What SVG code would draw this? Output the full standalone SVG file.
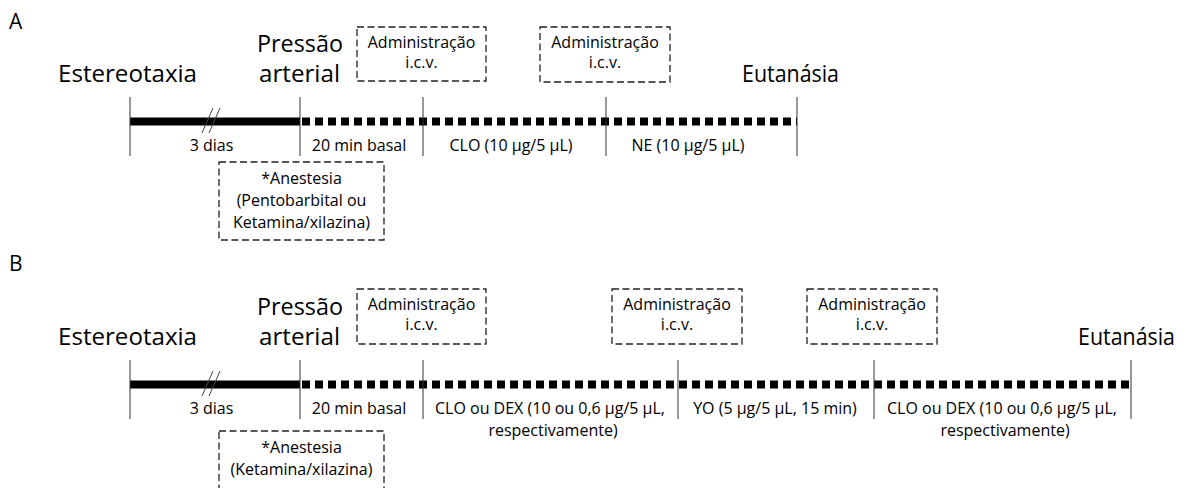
<svg xmlns="http://www.w3.org/2000/svg" width="1195" height="488" viewBox="0 0 1195 488">
  <style>
    text { font-family: "Open Sans", "Liberation Sans", sans-serif; fill: #000; }
    .big { font-size: 24px; }
    .panel { font-size: 21px; }
    .sm { font-size: 16px; text-anchor: middle; }
    .box { fill: none; stroke: #222; stroke-width: 1.3; stroke-dasharray: 7 3.5; }
    .tick { stroke: #333; stroke-width: 1; }
    .solid { stroke: #000; stroke-width: 8; }
    .dotted { stroke: #000; stroke-width: 8; stroke-dasharray: 8 5; }
    .brk { stroke: #444; stroke-width: 1; }
  </style>
  <rect width="1195" height="488" fill="#fff"/>

  <!-- Panel A -->
  <g id="panel-A-label"><text class="panel" x="9" y="29">A</text></g>
  <g id="A-estereotaxia"><text class="big" x="58" y="82" textLength="139" lengthAdjust="spacingAndGlyphs">Estereotaxia</text></g>
  <g id="A-pressao"><text class="big" x="257" y="52" textLength="86" lengthAdjust="spacingAndGlyphs">Pressão</text><text class="big" x="259" y="82" textLength="81" lengthAdjust="spacingAndGlyphs">arterial</text></g>
  <g id="A-eutanasia"><text class="big" x="742" y="82" textLength="97" lengthAdjust="spacingAndGlyphs">Eutanásia</text></g>
  <g id="A-admin-1"><rect class="box" x="357" y="27" width="129" height="54"/><text class="sm" x="421.5" y="48">Administração</text><text class="sm" x="421.5" y="68">i.c.v.</text></g>
  <g id="A-admin-2"><rect class="box" x="540" y="27" width="130" height="55"/><text class="sm" x="605" y="48">Administração</text><text class="sm" x="605" y="68">i.c.v.</text></g>
  <g id="A-anestesia"><rect class="box" x="219" y="162" width="165" height="78"/><text class="sm" x="301.5" y="184">*Anestesia</text><text class="sm" x="301.5" y="206">(Pentobarbital ou</text><text class="sm" x="301.5" y="228">Ketamina/xilazina)</text></g>
  <g id="A-labels">
    <text class="sm" x="211.5" y="151">3 dias</text>
    <text class="sm" x="359" y="151">20 min basal</text>
    <text class="sm" x="511" y="151">CLO (10 µg/5 µL)</text>
    <text class="sm" x="688" y="151">NE (10 µg/5 µL)</text>
  </g>

  <!-- Panel B -->
  <g id="panel-B-label"><text class="panel" x="9" y="271">B</text></g>
  <g id="B-estereotaxia"><text class="big" x="58" y="345" textLength="139" lengthAdjust="spacingAndGlyphs">Estereotaxia</text></g>
  <g id="B-pressao"><text class="big" x="257" y="315" textLength="86" lengthAdjust="spacingAndGlyphs">Pressão</text><text class="big" x="259" y="345" textLength="81" lengthAdjust="spacingAndGlyphs">arterial</text></g>
  <g id="B-eutanasia"><text class="big" x="1078" y="345" textLength="97" lengthAdjust="spacingAndGlyphs">Eutanásia</text></g>
  <g id="B-admin-1"><rect class="box" x="357" y="289" width="129" height="55"/><text class="sm" x="421.5" y="310">Administração</text><text class="sm" x="421.5" y="330">i.c.v.</text></g>
  <g id="B-admin-2"><rect class="box" x="612" y="289" width="130" height="55"/><text class="sm" x="677" y="310">Administração</text><text class="sm" x="677" y="330">i.c.v.</text></g>
  <g id="B-admin-3"><rect class="box" x="807" y="289" width="130" height="55"/><text class="sm" x="872" y="310">Administração</text><text class="sm" x="872" y="330">i.c.v.</text></g>
  <g id="B-anestesia"><rect class="box" x="219" y="431" width="165" height="70"/><text class="sm" x="301.5" y="453">*Anestesia</text><text class="sm" x="301.5" y="475">(Ketamina/xilazina)</text></g>
  <g id="B-labels">
    <text class="sm" x="211.5" y="414">3 dias</text>
    <text class="sm" x="359" y="414">20 min basal</text>
    <text class="sm" x="550" y="414">CLO ou DEX (10 ou 0,6 µg/5 µL,</text>
    <text class="sm" x="553" y="436">respectivamente)</text>
    <text class="sm" x="775" y="414">YO (5 µg/5 µL, 15 min)</text>
    <text class="sm" x="1002" y="414">CLO ou DEX (10 ou 0,6 µg/5 µL,</text>
    <text class="sm" x="1005" y="436">respectivamente)</text>
  </g>

  <!-- Connectors: timelines -->
  <g id="connectors">
    <line class="solid" x1="130" y1="121.5" x2="300" y2="121.5"/>
    <line class="dotted" x1="302" y1="121.5" x2="797" y2="121.5"/>
    <line class="brk" x1="202" y1="133" x2="213" y2="108"/>
    <line class="brk" x1="209" y1="133" x2="220" y2="108"/>
    <line class="tick" x1="130" y1="97" x2="130" y2="156"/>
    <line class="tick" x1="300" y1="97" x2="300" y2="156"/>
    <line class="tick" x1="423" y1="97" x2="423" y2="156"/>
    <line class="tick" x1="606" y1="97" x2="606" y2="156"/>
    <line class="tick" x1="797" y1="97" x2="797" y2="156"/>

    <line class="solid" x1="130" y1="384.5" x2="300" y2="384.5"/>
    <line class="dotted" x1="302" y1="384.5" x2="1131" y2="384.5"/>
    <line class="brk" x1="202" y1="396" x2="213" y2="371"/>
    <line class="brk" x1="209" y1="396" x2="220" y2="371"/>
    <line class="tick" x1="130" y1="360" x2="130" y2="419"/>
    <line class="tick" x1="300" y1="360" x2="300" y2="419"/>
    <line class="tick" x1="423" y1="360" x2="423" y2="419"/>
    <line class="tick" x1="678" y1="360" x2="678" y2="419"/>
    <line class="tick" x1="874" y1="360" x2="874" y2="419"/>
    <line class="tick" x1="1131" y1="360" x2="1131" y2="419"/>
  </g>
</svg>
